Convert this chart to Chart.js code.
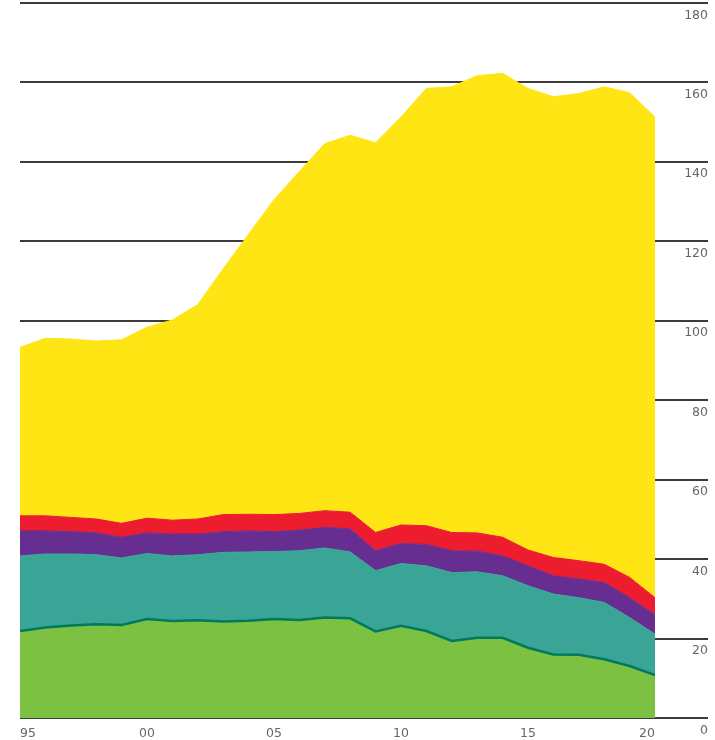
<!DOCTYPE html>
<html>
<head>
<meta charset="utf-8">
<script src="https://cdn.jsdelivr.net/npm/chart.js@4"></script>
<style>
    html, body { margin: 0; padding: 0; background: #fff; }
    #wrap { width: 715px; height: 740px; }
</style>
</head>
<body>
<div id="wrap"><canvas id="areaChart"></canvas></div>
<script>
// Years on the x axis
const years = [1995, 1996, 1997, 1998, 1999, 2000, 2001, 2002, 2003, 2004, 2005, 2006, 2007,
    2008, 2009, 2010, 2011, 2012, 2013, 2014, 2015, 2016, 2017, 2018, 2019, 2020];

// Layer values, bottom to top (stacked)
const greenValues = [21.9, 22.8, 23.3, 23.6, 23.4, 24.9, 24.4, 24.6, 24.3, 24.5, 24.9, 24.7, 25.3,
    25.1, 21.8, 23.2, 21.9, 19.4, 20.2, 20.2, 17.7, 16.0, 15.9, 14.8, 13.1, 10.8];
const tealValues = [18.9, 18.5, 18.0, 17.5, 16.9, 16.5, 16.4, 16.5, 17.4, 17.3, 17.0, 17.4, 17.5,
    16.7, 15.3, 15.7, 16.4, 17.2, 16.6, 15.6, 15.6, 15.2, 14.4, 14.3, 12.2, 10.3];
const purpleValues = [6.3, 5.8, 5.6, 5.5, 5.2, 5.2, 5.5, 5.2, 5.2, 5.3, 5.0, 5.2, 5.2,
    5.8, 5.0, 5.0, 5.4, 5.5, 5.2, 5.0, 5.0, 4.6, 4.7, 5.0, 5.0, 4.9];
const redValues = [3.8, 3.8, 3.6, 3.5, 3.5, 3.7, 3.5, 3.8, 4.3, 4.2, 4.3, 4.2, 4.2,
    4.2, 4.6, 4.7, 4.7, 4.6, 4.6, 4.7, 4.0, 4.6, 4.6, 4.6, 5.1, 4.3];
const yellowValues = [42.4, 44.7, 44.9, 44.8, 46.2, 48.1, 50.4, 54.0, 61.9, 70.5, 79.3, 86.1, 92.4,
    94.9, 98.1, 102.7, 110.1, 112.2, 115.1, 116.8, 116.2, 116.0, 117.6, 120.2, 122.0, 121.0];

// Axis ticks
const yTicks = [0, 20, 40, 60, 80, 100, 120, 140, 160, 180];
const xTicks = [1995, 2000, 2005, 2010, 2015, 2020];

function layer(values, color, fill, lineColor, lineWidth) {
    return {
        data: values,
        backgroundColor: color,
        borderColor: lineColor || color,
        borderWidth: lineWidth || 1,
        fill: fill,
        pointRadius: 0,
        tension: 0
    };
}

const ctx = document.getElementById('areaChart');

new Chart(ctx, {
    type: 'line',
    data: {
        labels: years,
        datasets: [
            layer(greenValues, '#7cc142', 'origin', '#007a5e', 2.5),
            layer(tealValues, '#3aa597', '-1'),
            layer(purpleValues, '#662e91', '-1'),
            layer(redValues, '#ed1c2e', '-1'),
            layer(yellowValues, '#ffe514', '-1')
        ]
    },
    options: {
        responsive: true,
        maintainAspectRatio: false,
        animation: false,
        layout: {
            padding: { left: 20, right: 7, top: 3, bottom: 0 }
        },
        plugins: {
            legend: { display: false },
            tooltip: { enabled: false }
        },
        scales: {
            x: {
                type: 'linear',
                min: 1995,
                max: 2020,
                grid: { display: false },
                border: { display: false },
                afterBuildTicks: scale => {
                    scale.ticks = xTicks.map(v => ({ value: v }));
                },
                afterFit: scale => { scale.height = 22; },
                ticks: {
                    align: 'inner',
                    padding: 0,
                    color: '#666',
                    font: { family: 'DejaVu Sans', size: 12.5 },
                    callback: v => String(v).slice(2)
                }
            },
            y: {
                position: 'right',
                stacked: true,
                min: 0,
                max: 180,
                border: { display: false },
                grid: {
                    color: '#3c3c3c',
                    lineWidth: 2,
                    tickLength: 53,
                    tickColor: '#3c3c3c'
                },
                afterBuildTicks: scale => {
                    scale.ticks = yTicks.map(v => ({ value: v }));
                },
                afterFit: scale => { scale.width = 53; },
                ticks: {
                    align: 'start',
                    crossAlign: 'far',
                    labelOffset: 6,
                    color: '#666',
                    font: { family: 'DejaVu Sans', size: 12.5 }
                }
            }
        }
    }
});
</script>
</body>
</html>
